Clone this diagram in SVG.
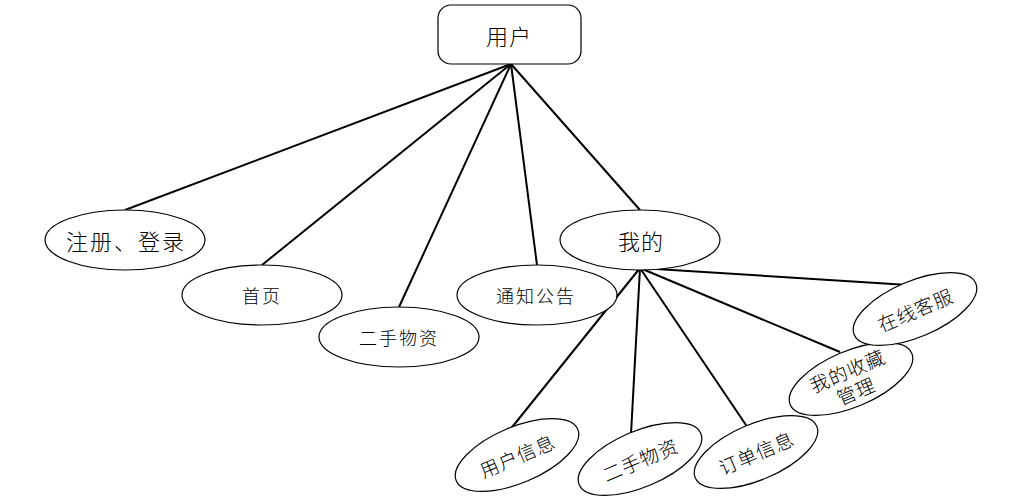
<svg xmlns="http://www.w3.org/2000/svg" width="1016" height="503" viewBox="0 0 1016 503">
<style>
.n{fill:#fff;stroke:#000;stroke-width:1.2}
.t{font-family:"Noto Sans CJK SC","Noto Sans CJK JP",sans-serif;fill:#000;text-anchor:middle;dominant-baseline:central;font-weight:300}
.s{font-size:18px;letter-spacing:2px}
.r{font-size:19px;letter-spacing:1px}
.c line{stroke:#000;stroke-width:2}
</style>
<rect width="1016" height="503" fill="#fff"/>
<g class="c" id="connectors">
<line x1="511" y1="64" x2="125" y2="210"/>
<line x1="511" y1="64" x2="262" y2="265"/>
<line x1="511" y1="64" x2="399" y2="307"/>
<line x1="511" y1="64" x2="537" y2="265"/>
<line x1="511" y1="64" x2="640" y2="210"/>
<line x1="640" y1="268" x2="509" y2="431"/>
<line x1="640" y1="268" x2="631" y2="434"/>
<line x1="640" y1="268" x2="748" y2="428"/>
<line x1="640" y1="268" x2="840" y2="352"/>
<line x1="640" y1="268" x2="908" y2="285"/>
</g>
<g id="user"><rect class="n" x="438" y="5" width="143" height="59" rx="13"/><text class="t" x="509" y="35" font-size="22" letter-spacing="1">用户</text></g>
<g id="login"><ellipse class="n" cx="125" cy="240" rx="80" ry="30"/><text class="t" x="126" y="240" font-size="22" letter-spacing="2">注册、登录</text></g>
<g id="home"><ellipse class="n" cx="262" cy="295" rx="80" ry="30"/><text class="t s" x="262" y="295">首页</text></g>
<g id="goods"><ellipse class="n" cx="399" cy="337" rx="80" ry="30"/><text class="t s" x="399" y="337">二手物资</text></g>
<g id="notice"><ellipse class="n" cx="537" cy="295" rx="80" ry="30"/><text class="t s" x="536" y="295">通知公告</text></g>
<g id="mine"><ellipse class="n" cx="640" cy="240" rx="80" ry="30"/><text class="t" x="641" y="240" font-size="22" letter-spacing="1">我的</text></g>
<g id="userinfo" transform="translate(517,455) rotate(-23)"><ellipse class="n" rx="66" ry="28"/><text class="t r">用户信息</text></g>
<g id="mygoods" transform="translate(640,459) rotate(-23)"><ellipse class="n" rx="66" ry="28"/><text class="t r">二手物资</text></g>
<g id="orders" transform="translate(756,452) rotate(-23)"><ellipse class="n" rx="66" ry="28"/><text class="t r">订单信息</text></g>
<g id="favorites" transform="translate(851,379) rotate(-23)"><ellipse class="n" rx="66" ry="28"/><text class="t r" y="-10">我的收藏</text><text class="t r" y="12">管理</text></g>
<g id="service" transform="translate(915,309) rotate(-23)"><ellipse class="n" rx="66" ry="28"/><text class="t r">在线客服</text></g>
</svg>
